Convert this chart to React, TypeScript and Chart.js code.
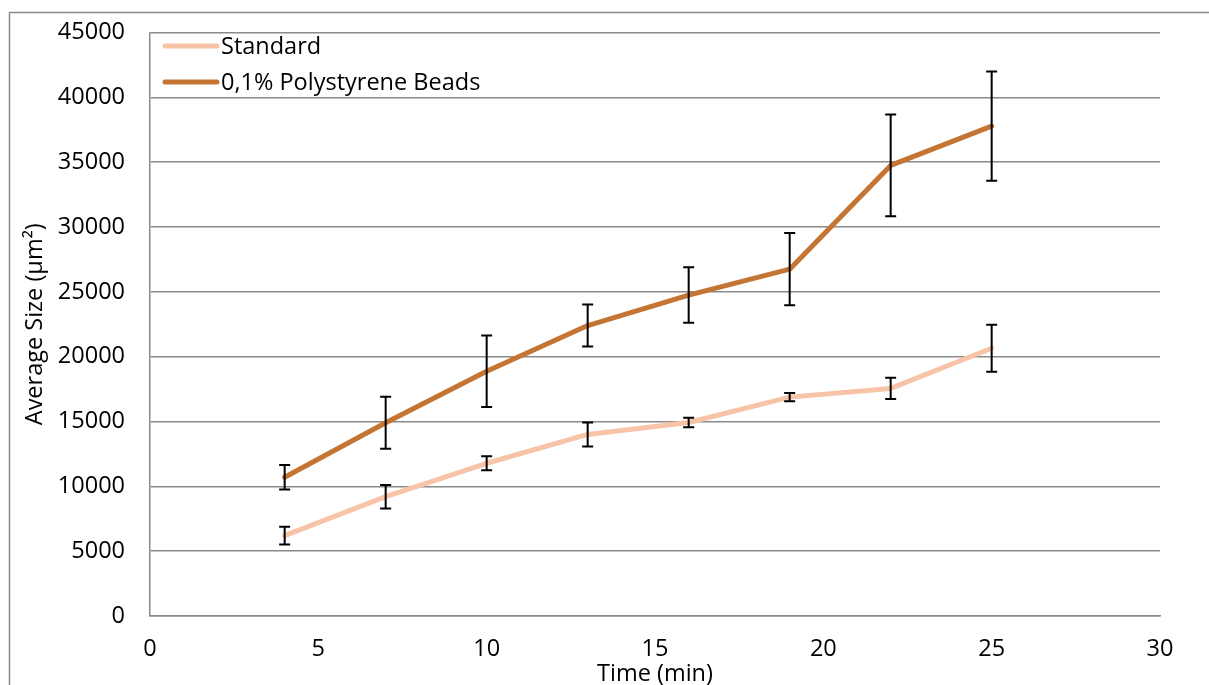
import React, { useEffect, useRef } from "react";
import { Chart, registerables } from "chart.js";

Chart.register(...registerables);

// Sampling times (min)
const times = [4, 7, 10, 13, 16, 19, 22, 25];

// Average size (µm²) and error per time point
const standardSize = [6200, 9200, 11780, 14000, 14920, 16880, 17550, 20650];
const standardError = [680, 910, 540, 930, 360, 310, 820, 1810];

const beadsSize = [10700, 14900, 18880, 22400, 24750, 26750, 34750, 37780];
const beadsError = [950, 2010, 2760, 1620, 2140, 2780, 3930, 4210];

const seriesNames = ["Standard", "0,1% Polystyrene Beads"];
const seriesColors = ["#F7C4A8", "#C47534"];
const seriesErrors = [standardError, beadsError];

// Axis ranges and tick steps
const xRange = [0, 30];
const xStep = 5;
const yRange = [0, 45000];
const yStep = 5000;

const xTitle = "Time (min)";
const yTitle = "Average Size (µm²)";

const FONT = "'Open Sans', 'Noto Sans', sans-serif";
const FONT_SIZE = 23.5;
const GRID = "#8a8a8a";

const W = 1209;
const H = 685;

const frame = {
  id: "frame",
  beforeDraw(chart: any) {
    const { ctx } = chart;
    ctx.save();
    ctx.fillStyle = "#ffffff";
    ctx.fillRect(0, 0, chart.width, chart.height);
    ctx.strokeStyle = GRID;
    ctx.lineWidth = 1.5;
    ctx.beginPath();
    ctx.moveTo(9.5, chart.height);
    ctx.lineTo(9.5, 12.5);
    ctx.lineTo(chart.width, 12.5);
    ctx.stroke();
    ctx.restore();
  },
};

const errorBars = {
  id: "errorBars",
  afterDatasetsDraw(chart: any) {
    const { ctx } = chart;
    const xs = chart.scales.x;
    const ys = chart.scales.y;
    ctx.save();
    ctx.strokeStyle = "#000000";
    ctx.lineWidth = 2;
    ctx.lineCap = "butt";
    chart.data.datasets.forEach((ds: any, di: number) => {
      const errs = seriesErrors[di];
      ds.data.forEach((p: any, i: number) => {
        const px = xs.getPixelForValue(p.x);
        const top = ys.getPixelForValue(p.y + errs[i]);
        const bot = ys.getPixelForValue(p.y - errs[i]);
        const cap = 5.5;
        ctx.beginPath();
        ctx.moveTo(px, top);
        ctx.lineTo(px, bot);
        ctx.moveTo(px - cap, top);
        ctx.lineTo(px + cap, top);
        ctx.moveTo(px - cap, bot);
        ctx.lineTo(px + cap, bot);
        ctx.stroke();
      });
    });
    ctx.restore();
  },
};

const insideLegend = {
  id: "insideLegend",
  afterDraw(chart: any) {
    const { ctx, chartArea } = chart;
    ctx.save();
    ctx.font = `${FONT_SIZE}px ${FONT}`;
    ctx.textBaseline = "middle";
    ctx.textAlign = "left";
    seriesNames.forEach((name, i) => {
      const y = chartArea.top + 13.5 + i * 36;
      ctx.strokeStyle = seriesColors[i];
      ctx.lineWidth = 5;
      ctx.lineCap = "round";
      ctx.beginPath();
      ctx.moveTo(chartArea.left + 15, y);
      ctx.lineTo(chartArea.left + 67, y);
      ctx.stroke();
      ctx.fillStyle = "#000000";
      ctx.fillText(name, chartArea.left + 71, y + 1);
    });
    ctx.restore();
  },
};

export default function App() {
  const ref = useRef<HTMLCanvasElement | null>(null);

  useEffect(() => {
    if (!ref.current) return;
    Chart.defaults.font.family = FONT;
    Chart.defaults.font.size = FONT_SIZE;
    Chart.defaults.color = "#000000";

    const seriesValues = [standardSize, beadsSize];
    const chart = new Chart(ref.current, {
      type: "line",
      data: {
        datasets: seriesNames.map((name, di) => ({
          label: name,
          data: times.map((t, i) => ({ x: t, y: seriesValues[di][i] })),
          borderColor: seriesColors[di],
          backgroundColor: seriesColors[di],
          borderWidth: 5,
          borderCapStyle: "round",
          borderJoinStyle: "round",
          pointRadius: 0,
          pointHoverRadius: 0,
          tension: 0,
          fill: false,
        })),
      },
      options: {
        animation: false,
        responsive: false,
        devicePixelRatio: 1,
        layout: { padding: { left: 0, top: 32.5, right: 49, bottom: 0 } },
        plugins: {
          legend: { display: false },
          tooltip: { enabled: false },
        },
        scales: {
          x: {
            type: "linear",
            min: xRange[0],
            max: xRange[1],
            ticks: {
              stepSize: xStep,
              maxRotation: 0,
              padding: 19,
              callback: (v: any) => String(v),
            },
            grid: { display: false, drawTicks: false },
            border: { display: true, color: GRID, width: 1.5 },
            title: {
              display: true,
              text: xTitle,
              font: { size: FONT_SIZE, lineHeight: 1 },
              padding: { top: 0, bottom: -1 },
            },
            afterFit: (s: any) => {
              s.height = 69;
              s.paddingLeft = 0;
              s.paddingRight = 0;
            },
          },
          y: {
            type: "linear",
            min: yRange[0],
            max: yRange[1],
            ticks: {
              stepSize: yStep,
              padding: 25,
              callback: (v: any) => String(v),
            },
            grid: { color: GRID, lineWidth: 1.5, drawTicks: false },
            border: { display: true, color: GRID, width: 1.5 },
            title: {
              display: true,
              text: yTitle,
              font: { size: FONT_SIZE, lineHeight: 1 },
              padding: { top: 24, bottom: 0 },
            },
            afterFit: (s: any) => {
              s.width = 150;
              s.paddingTop = 0;
              s.paddingBottom = 0;
            },
          },
        },
      },
      plugins: [frame, errorBars, insideLegend],
    } as any);
    return () => chart.destroy();
  }, []);

  return (
    <div style={{ position: "fixed", left: 0, top: 0, width: W, height: H, background: "#fff" }}>
      <canvas ref={ref} width={W} height={H} style={{ display: "block" }} />
    </div>
  );
}
